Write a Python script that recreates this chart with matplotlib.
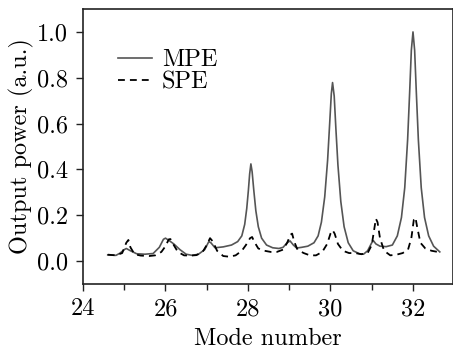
import matplotlib
matplotlib.use("Agg")
import matplotlib.pyplot as plt
from matplotlib.ticker import MultipleLocator

plt.rcParams['font.family'] = ['cmr10', 'DejaVu Serif']
plt.rcParams['axes.formatter.use_mathtext'] = True
plt.rcParams['mathtext.fontset'] = 'cm'

# MPE (solid)
mpe_x = [24.6, 24.8, 24.9, 25.0, 25.05, 25.15, 25.3, 25.5, 25.7, 25.85, 25.95, 26.0,
         26.1, 26.2, 26.35, 26.5, 26.65, 26.8, 26.95, 27.05, 27.1, 27.2, 27.4,
         27.6, 27.75, 27.85, 27.92, 27.97, 28.01, 28.04, 28.07, 28.1, 28.14, 28.19,
         28.25, 28.33, 28.45, 28.6, 28.75, 28.85, 28.95, 29.02, 29.1, 29.18, 29.3,
         29.45, 29.6, 29.7, 29.78, 29.86, 29.93, 29.98, 30.02, 30.05, 30.09, 30.13,
         30.18, 30.25, 30.33, 30.43, 30.55, 30.7, 30.8, 30.9, 31.0, 31.04, 31.1,
         31.2, 31.35, 31.5, 31.62, 31.72, 31.8, 31.87, 31.92, 31.96, 32.0, 32.04,
         32.08, 32.13, 32.2, 32.28, 32.38, 32.5, 32.65]
mpe_y = [0.027, 0.025, 0.035, 0.05, 0.055, 0.045, 0.032, 0.03, 0.033, 0.06, 0.095, 0.1,
         0.088, 0.075, 0.05, 0.03, 0.025, 0.03, 0.05, 0.085, 0.08, 0.058, 0.062,
         0.07, 0.085, 0.11, 0.16, 0.23, 0.31, 0.38, 0.424, 0.39, 0.31, 0.22,
         0.15, 0.10, 0.07, 0.058, 0.055, 0.06, 0.08, 0.088, 0.07, 0.057, 0.06,
         0.065, 0.08, 0.11, 0.17, 0.28, 0.44, 0.60, 0.73, 0.779, 0.72, 0.58,
         0.42, 0.26, 0.15, 0.08, 0.045, 0.032, 0.03, 0.045, 0.08, 0.089, 0.075,
         0.065, 0.063, 0.07, 0.11, 0.19, 0.32, 0.53, 0.74, 0.92, 1.0, 0.92,
         0.74, 0.53, 0.32, 0.19, 0.11, 0.065, 0.04]

# SPE (dashed)
spe_x = [24.6, 24.8, 24.95, 25.05, 25.1, 25.15, 25.25, 25.4, 25.6, 25.75, 25.9, 26.0,
         26.08, 26.12, 26.2, 26.3, 26.45, 26.6, 26.75, 26.9, 27.0, 27.08, 27.15,
         27.25, 27.4, 27.55, 27.7, 27.85, 27.95, 28.05, 28.1, 28.15, 28.25, 28.4,
         28.55, 28.7, 28.85, 28.95, 29.03, 29.07, 29.12, 29.2, 29.35, 29.5, 29.65,
         29.8, 29.92, 30.0, 30.05, 30.1, 30.18, 30.3, 30.45, 30.6, 30.75, 30.9,
         31.0, 31.07, 31.1, 31.14, 31.2, 31.3, 31.45, 31.6, 31.75, 31.88, 31.96,
         32.02, 32.06, 32.1, 32.18, 32.3, 32.45, 32.6]
spe_y = [0.028, 0.025, 0.035, 0.08, 0.092, 0.06, 0.03, 0.024, 0.022, 0.025, 0.04, 0.065,
         0.095, 0.096, 0.07, 0.04, 0.025, 0.024, 0.026, 0.04, 0.07, 0.1, 0.085,
         0.045, 0.022, 0.019, 0.025, 0.045, 0.07, 0.1, 0.105, 0.085, 0.055, 0.045,
         0.04, 0.04, 0.05, 0.08, 0.115, 0.12, 0.085, 0.05, 0.035, 0.025, 0.025,
         0.04, 0.075, 0.12, 0.135, 0.12, 0.075, 0.045, 0.035, 0.035, 0.03, 0.035,
         0.07, 0.15, 0.185, 0.17, 0.1, 0.045, 0.025, 0.028, 0.035, 0.05, 0.1,
         0.18, 0.19, 0.15, 0.08, 0.055, 0.045, 0.04]

x_ticks = [24, 26, 28, 30, 32]
y_ticks = [0.0, 0.2, 0.4, 0.6, 0.8, 1.0]

fig = plt.figure(figsize=(4.53, 3.5), dpi=100)
ax = fig.add_axes([83/453, 1-284/350, 1-83/453, 275/350])

ax.plot(mpe_x, mpe_y, color='#555555', lw=1.2, label='MPE')
ax.plot(spe_x, spe_y, color='black', lw=1.3, dashes=(3.8, 2.8), label='SPE')

ax.set_xlim(24, 32.97)
ax.set_ylim(-0.1, 1.1)
ax.set_xticks(x_ticks)
ax.set_xticklabels([str(v) for v in x_ticks])
ax.set_yticks(y_ticks)
ax.set_yticklabels([f"{v:.1f}" for v in y_ticks])
ax.xaxis.set_minor_locator(MultipleLocator(1))

ax.tick_params(which='both', direction='out', labelsize=17.5, width=1.0, color='#222222')
ax.tick_params(which='major', length=5)
ax.tick_params(which='minor', length=4)
ax.tick_params(axis='x', pad=5)
ax.tick_params(axis='y', pad=6)
for s in ax.spines.values():
    s.set_linewidth(1.2)
    s.set_color('#222222')

ax.set_xlabel('Mode number', fontsize=17.5, labelpad=6)
ax.set_ylabel('Output power (a.u.)', fontsize=17.5, labelpad=2)

leg = ax.legend(loc='upper left', bbox_to_anchor=(0.068, 0.89), borderaxespad=0,
                frameon=False, fontsize=17.5, handlelength=1.4, handletextpad=0.42,
                labelspacing=0.0)

fig.savefig('out.png', dpi=100)
